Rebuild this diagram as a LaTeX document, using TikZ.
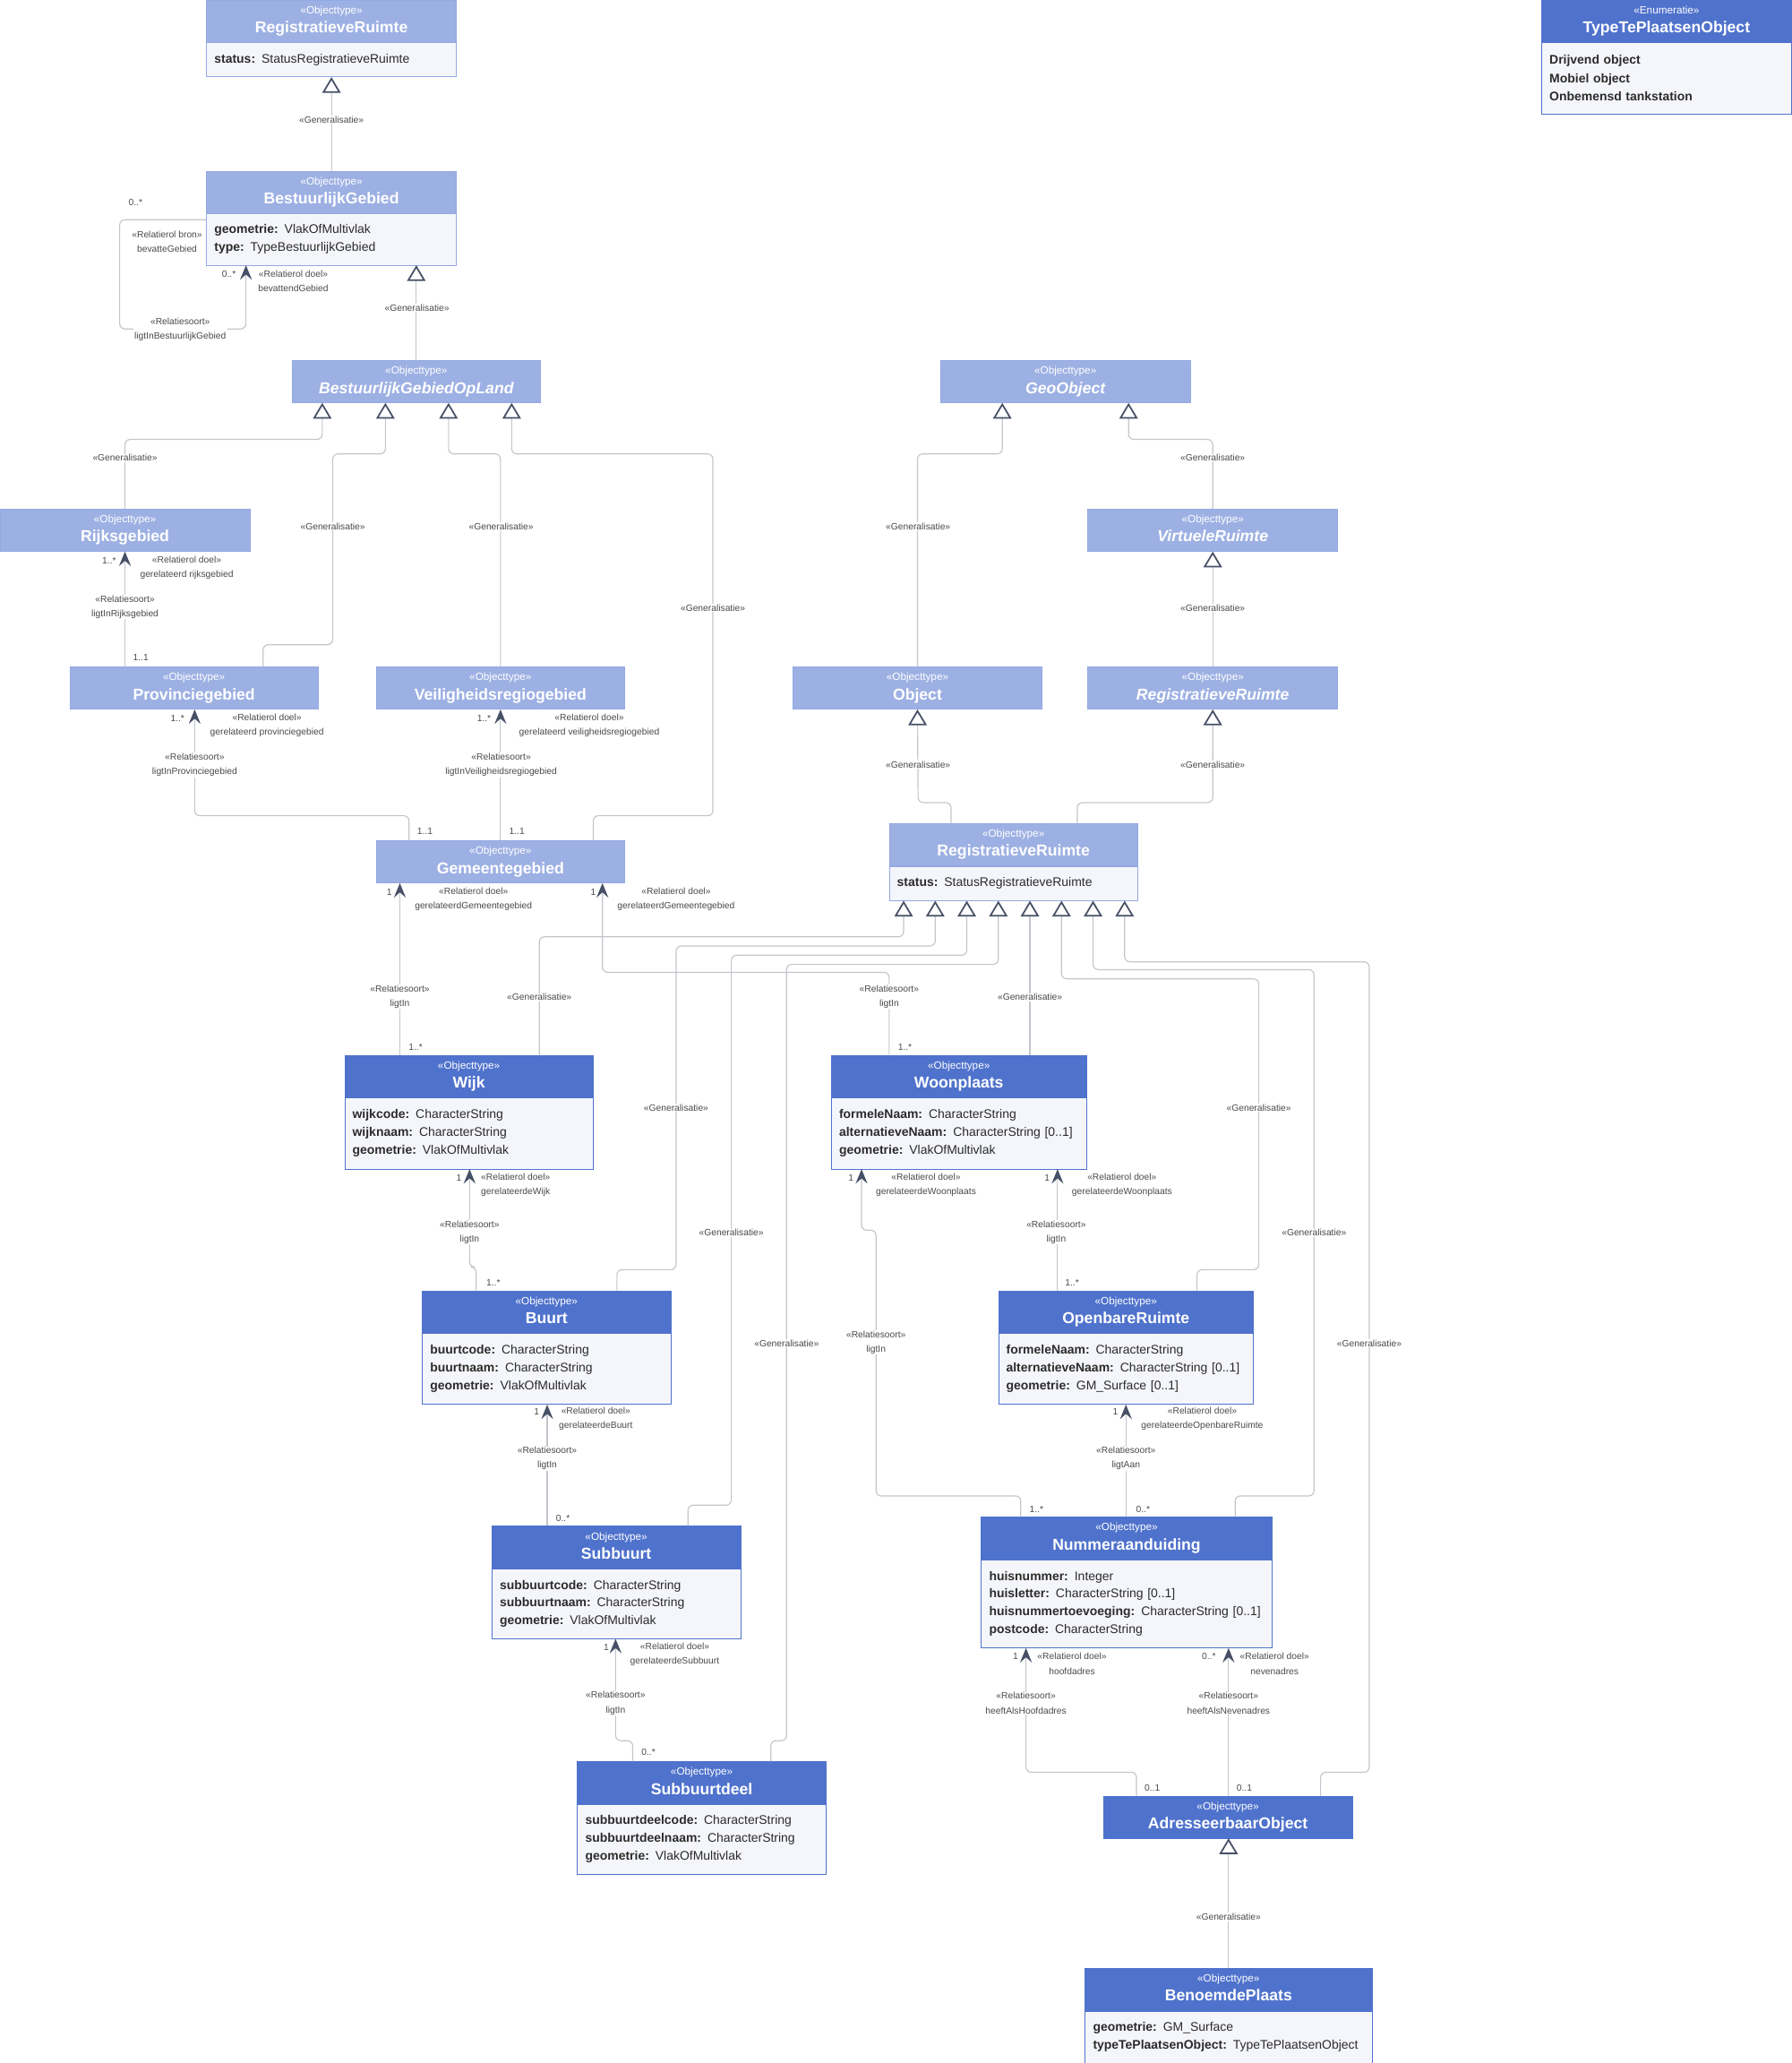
\documentclass[tikz,border=0pt]{standalone}
\usepackage{fontspec}
\setmainfont{Liberation Sans}
\usepackage{xcolor}
\usepackage{tikz}
\usetikzlibrary{arrows.meta, positioning, calc}

\definecolor{hdrLight}{HTML}{9DB0E3}
\definecolor{hdrDark}{HTML}{4F72CC}
\definecolor{edgeLight}{HTML}{93A9E4}
\definecolor{bodyFill}{HTML}{F5F6FB}
\definecolor{wireC}{HTML}{C3C6CC}
\definecolor{tipC}{HTML}{475066}
\definecolor{lblC}{HTML}{4A4A4A}
\definecolor{attrC}{HTML}{2B2B2B}

\newcommand{\stype}[1]{«#1»}
\newcommand{\ctitle}[1]{{\fontsize{12}{14}\selectfont\bfseries #1\vphantom{Wjg}}}

\begin{document}
\begin{tikzpicture}[
    x=1pt, y=-1pt,
    hlight/.style={draw=edgeLight, fill=hdrLight, text=white, minimum height=32pt, align=center, inner sep=0pt, font=\fontsize{8}{14.5}\selectfont},
    hdark/.style={hlight, draw=hdrDark, fill=hdrDark},
    attrs/.style={draw=edgeLight, fill=bodyFill, text=attrC, anchor=north, align=left, inner xsep=6pt, inner ysep=0pt, font=\fontsize{9.5}{13.5}\selectfont},
    dattrs/.style={attrs, draw=hdrDark},
    wire/.style={draw=wireC, line width=0.8pt, rounded corners=4pt},
    gen/.style={wire, -{Triangle[length=12pt, width=14pt, line width=1.2pt, color=tipC, fill=white]}},
    assoc/.style={wire, -{Stealth[length=11pt, width=9pt, inset=4pt, color=tipC]}},
    lbl/.style={font=\fontsize{7}{11}\selectfont, text=lblC, fill=white, align=center, inner xsep=1pt, inner ysep=0.5pt},
    role/.style={lbl, fill=none}
]
    \useasboundingbox (0,0) rectangle (1362,1568);

    % Bestuurlijke gebieden
    \node[hlight, minimum width=190pt] (rrT) at (252,16) {\stype{Objecttype}\\\ctitle{RegistratieveRuimte}};
    \node[attrs, minimum width=190pt, text width=178pt, minimum height=26pt] (rrTA) at (rrT.south) {\textbf{status:} StatusRegistratieveRuimte};
    \node[hlight, minimum width=190pt] (bg) at (252,146) {\stype{Objecttype}\\\ctitle{BestuurlijkGebied}};
    \node[attrs, minimum width=190pt, text width=178pt, minimum height=39pt] (bgA) at (bg.south) {\textbf{geometrie:} VlakOfMultivlak\\\textbf{type:} TypeBestuurlijkGebied};
    \node[hlight, minimum width=189pt] (bgol) at (316.5,290) {\stype{Objecttype}\\\ctitle{\itshape BestuurlijkGebiedOpLand}};
    \node[hlight, minimum width=190pt] (rijk) at (95,403) {\stype{Objecttype}\\\ctitle{Rijksgebied}};
    \node[hlight, minimum width=189pt] (prov) at (147.5,523) {\stype{Objecttype}\\\ctitle{Provinciegebied}};
    \node[hlight, minimum width=189pt] (veil) at (380.5,523) {\stype{Objecttype}\\\ctitle{Veiligheidsregiogebied}};
    \node[hlight, minimum width=189pt] (gem) at (380.5,655) {\stype{Objecttype}\\\ctitle{Gemeentegebied}};

    % GeoObject tak
    \node[hlight, minimum width=190pt] (geo) at (810,290) {\stype{Objecttype}\\\ctitle{\itshape GeoObject}};
    \node[hlight, minimum width=190pt] (virt) at (922,403) {\stype{Objecttype}\\\ctitle{\itshape VirtueleRuimte}};
    \node[hlight, minimum width=189pt] (obj) at (697.5,523) {\stype{Objecttype}\\\ctitle{Object}};
    \node[hlight, minimum width=190pt] (rrR) at (922,523) {\stype{Objecttype}\\\ctitle{\itshape RegistratieveRuimte}};
    \node[hlight, minimum width=189pt] (rrm) at (770.5,642) {\stype{Objecttype}\\\ctitle{RegistratieveRuimte}};
    \node[attrs, minimum width=189pt, text width=177pt, minimum height=26pt] (rrmA) at (rrm.south) {\textbf{status:} StatusRegistratieveRuimte};

    % Registratieve ruimtes
    \node[hdark, minimum width=189pt] (wijk) at (356.5,818) {\stype{Objecttype}\\\ctitle{Wijk}};
    \node[dattrs, minimum width=189pt, text width=177pt, minimum height=54pt] (wijkA) at (wijk.south) {\textbf{wijkcode:} CharacterString\\\textbf{wijknaam:} CharacterString\\\textbf{geometrie:} VlakOfMultivlak};
    \node[hdark, minimum width=194pt] (woon) at (729,818) {\stype{Objecttype}\\\ctitle{Woonplaats}};
    \node[dattrs, minimum width=194pt, text width=182pt, minimum height=54pt] (woonA) at (woon.south) {\textbf{formeleNaam:} CharacterString\\\textbf{alternatieveNaam:} CharacterString [0..1]\\\textbf{geometrie:} VlakOfMultivlak};
    \node[hdark, minimum width=189pt] (buurt) at (415.5,997) {\stype{Objecttype}\\\ctitle{Buurt}};
    \node[dattrs, minimum width=189pt, text width=177pt, minimum height=54pt] (buurtA) at (buurt.south) {\textbf{buurtcode:} CharacterString\\\textbf{buurtnaam:} CharacterString\\\textbf{geometrie:} VlakOfMultivlak};
    \node[hdark, minimum width=194pt] (opr) at (856,997) {\stype{Objecttype}\\\ctitle{OpenbareRuimte}};
    \node[dattrs, minimum width=194pt, text width=182pt, minimum height=54pt] (oprA) at (opr.south) {\textbf{formeleNaam:} CharacterString\\\textbf{alternatieveNaam:} CharacterString [0..1]\\\textbf{geometrie:} GM\_Surface [0..1]};
    \node[hdark, minimum width=189pt] (subb) at (468.5,1176) {\stype{Objecttype}\\\ctitle{Subbuurt}};
    \node[dattrs, minimum width=189pt, text width=177pt, minimum height=53pt] (subbA) at (subb.south) {\textbf{subbuurtcode:} CharacterString\\\textbf{subbuurtnaam:} CharacterString\\\textbf{geometrie:} VlakOfMultivlak};
    \node[hdark, minimum width=221pt] (numm) at (856.5,1169) {\stype{Objecttype}\\\ctitle{Nummeraanduiding}};
    \node[dattrs, minimum width=221pt, text width=209pt, minimum height=67pt] (nummA) at (numm.south) {\textbf{huisnummer:} Integer\\\textbf{huisletter:} CharacterString [0..1]\\\textbf{huisnummertoevoeging:} CharacterString [0..1]\\\textbf{postcode:} CharacterString};
    \node[hdark, minimum width=189pt] (subd) at (533.5,1355) {\stype{Objecttype}\\\ctitle{Subbuurtdeel}};
    \node[dattrs, minimum width=189pt, text width=177pt, minimum height=53pt] (subdA) at (subd.south) {\textbf{subbuurtdeelcode:} CharacterString\\\textbf{subbuurtdeelnaam:} CharacterString\\\textbf{geometrie:} VlakOfMultivlak};
    \node[hdark, minimum width=189pt] (ao) at (933.5,1381) {\stype{Objecttype}\\\ctitle{AdresseerbaarObject}};
    \node[hdark, minimum width=218pt] (bp) at (934,1512) {\stype{Objecttype}\\\ctitle{BenoemdePlaats}};
    \node[dattrs, minimum width=218pt, text width=206pt, minimum height=40pt] (bpA) at (bp.south) {\textbf{geometrie:} GM\_Surface\\\textbf{typeTePlaatsenObject:} TypeTePlaatsenObject};

    % Enumeratie
    \node[hdark, minimum width=190pt] (enum) at (1267,16) {\stype{Enumeratie}\\\ctitle{TypeTePlaatsenObject}};
    \node[dattrs, minimum width=190pt, text width=178pt, minimum height=54pt, font=\fontsize{9.5}{14}\selectfont\bfseries] (enumA) at (enum.south) {Drijvend object\\Mobiel object\\Onbemensd tankstation};

    % Generalisaties
    \draw[gen] (bg.north) -- (rrTA.south);
    \draw[gen] (bgol.north) -- (bgA.south -| bgol.north);
    \draw[gen] (rijk.north) |- (245,334) -- (bgol.south -| 245,0);
    \draw[gen] (prov.north -| 200,0) |- (253,490) |- (293,345) -- (bgol.south -| 293,0);
    \draw[gen] (veil.north) |- (341,345) -- (bgol.south -| 341,0);
    \draw[gen] (gem.north -| 451,0) |- (542,620) |- (389,345) -- (bgol.south -| 389,0);
    \draw[gen] (obj.north) |- (762,345) -- (geo.south -| 762,0);
    \draw[gen] (virt.north) |- (858,334) -- (geo.south -| 858,0);
    \draw[gen] (rrR.north) -- (virt.south);
    \draw[gen] (rrm.north -| 723,0) |- (698,610) -- (obj.south);
    \draw[gen] (rrm.north -| 819,0) |- (922,610) -- (rrR.south);
    \draw[gen] (wijk.north -| 410,0) |- (687,712) -- (rrmA.south -| 687,0);
    \draw[gen] (buurt.north -| 469,0) |- (514,965) |- (711,719) -- (rrmA.south -| 711,0);
    \draw[gen] (subb.north -| 523,0) |- (556,1144) |- (735,726) -- (rrmA.south -| 735,0);
    \draw[gen] (subd.north -| 586,0) |- (598,1323) |- (759,733) -- (rrmA.south -| 759,0);
    \draw[gen] (woon.north -| 783,0) -- (rrmA.south -| 783,0);
    \draw[gen] (opr.north -| 910,0) |- (957,965) |- (807,744) -- (rrmA.south -| 807,0);
    \draw[gen] (numm.north -| 939,0) |- (999,1137) |- (831,737) -- (rrmA.south -| 831,0);
    \draw[gen] (ao.north -| 1004,0) |- (1041,1347) |- (855,731) -- (rrmA.south -| 855,0);
    \draw[gen] (bp.north) -- (ao.south -| bp.north);

    % Relatiesoorten
    \draw[assoc] (bgA.west |- 0,167) -| (91,250) -| (bgA.south -| 187,0);
    \draw[assoc] (prov.north -| rijk.south) -- (rijk.south);
    \draw[assoc] (gem.north -| 311,0) |- (148,620) -- (prov.south -| 148,0);
    \draw[assoc] (gem.north) -- (veil.south);
    \draw[assoc] (wijk.north -| 304,0) -- (gem.south -| 304,0);
    \draw[assoc] (woon.north -| 676,0) |- (458,739) -- (gem.south -| 458,0);
    \draw[assoc] (buurt.north -| 362,0) |- (357,963) -- (wijkA.south -| 357,0);
    \draw[assoc] (subb.north -| 416,0) -- (buurtA.south -| 416,0);
    \draw[assoc] (subd.north -| 481,0) |- (468,1323) -- (subbA.south -| 468,0);
    \draw[assoc] (opr.north -| 804,0) -- (woonA.south -| 804,0);
    \draw[assoc] (numm.north -| 776,0) |- (666,1137) |- (655,935) -- (woonA.south -| 655,0);
    \draw[assoc] (numm.north -| 856,0) -- (oprA.south -| 856,0);
    \draw[assoc] (ao.north -| 864,0) |- (780,1347) -- (nummA.south -| 780,0);
    \draw[assoc] (ao.north -| 934,0) -- (nummA.south -| 934,0);

    % Labels generalisaties
    \node[lbl] (lg1) at (252,91) {«Generalisatie»};
    \node[lbl] (lg2) at (317,234) {«Generalisatie»};
    \node[lbl] (lg3) at (95,348) {«Generalisatie»};
    \node[lbl] (lg4) at (253,400) {«Generalisatie»};
    \node[lbl] (lg5) at (381,400) {«Generalisatie»};
    \node[lbl] (lg6) at (542,462) {«Generalisatie»};
    \node[lbl] (lg7) at (698,400) {«Generalisatie»};
    \node[lbl] (lg8) at (922,348) {«Generalisatie»};
    \node[lbl] (lg9) at (922,462) {«Generalisatie»};
    \node[lbl] (lg10) at (698,581) {«Generalisatie»};
    \node[lbl] (lg11) at (922,581) {«Generalisatie»};
    \node[lbl] (lg12) at (410,758) {«Generalisatie»};
    \node[lbl] (lg13) at (783,758) {«Generalisatie»};
    \node[lbl] (lg14) at (514,842) {«Generalisatie»};
    \node[lbl] (lg15) at (957,842) {«Generalisatie»};
    \node[lbl] (lg16) at (556,937) {«Generalisatie»};
    \node[lbl] (lg17) at (999,937) {«Generalisatie»};
    \node[lbl] (lg18) at (598,1021) {«Generalisatie»};
    \node[lbl] (lg19) at (1041,1021) {«Generalisatie»};
    \node[lbl] (lg20) at (934,1457) {«Generalisatie»};

    % Labels relatiesoorten
    \node[lbl] (ls1) at (137,250.5) {«Relatiesoort»\\ligtInBestuurlijkGebied};
    \node[lbl] (ls2) at (95,461.5) {«Relatiesoort»\\ligtInRijksgebied};
    \node[lbl] (ls3) at (148,581.5) {«Relatiesoort»\\ligtInProvinciegebied};
    \node[lbl] (ls4) at (381,581.5) {«Relatiesoort»\\ligtInVeiligheidsregiogebied};
    \node[lbl] (ls5) at (304,757.5) {«Relatiesoort»\\ligtIn};
    \node[lbl] (ls6) at (676,757.5) {«Relatiesoort»\\ligtIn};
    \node[lbl] (ls7) at (357,936.5) {«Relatiesoort»\\ligtIn};
    \node[lbl] (ls8) at (803,936.5) {«Relatiesoort»\\ligtIn};
    \node[lbl] (ls9) at (666,1020.5) {«Relatiesoort»\\ligtIn};
    \node[lbl] (ls10) at (416,1108.5) {«Relatiesoort»\\ligtIn};
    \node[lbl] (ls11) at (856,1108.5) {«Relatiesoort»\\ligtAan};
    \node[lbl] (ls12) at (468,1294.5) {«Relatiesoort»\\ligtIn};
    \node[lbl] (ls13) at (780,1294.5) {«Relatiesoort»\\heeftAlsHoofdadres};
    \node[lbl] (ls14) at (934,1294.5) {«Relatiesoort»\\heeftAlsNevenadres};

    % Labels relatierollen
    \node[role] (lr1) at (127,183.5) {«Relatierol bron»\\bevatteGebied};
    \node[role] (lr2) at (223,213.5) {«Relatierol doel»\\bevattendGebied};
    \node[role] (lr3) at (142,431.5) {«Relatierol doel»\\gerelateerd rijksgebied};
    \node[role] (lr4) at (203,551.5) {«Relatierol doel»\\gerelateerd provinciegebied};
    \node[role] (lr5) at (448,551.5) {«Relatierol doel»\\gerelateerd veiligheidsregiogebied};
    \node[role] (lr6) at (360,683.5) {«Relatierol doel»\\gerelateerdGemeentegebied};
    \node[role] (lr7) at (514,683.5) {«Relatierol doel»\\gerelateerdGemeentegebied};
    \node[role] (lr8) at (392,900.5) {«Relatierol doel»\\gerelateerdeWijk};
    \node[role] (lr9) at (704,900.5) {«Relatierol doel»\\gerelateerdeWoonplaats};
    \node[role] (lr10) at (853,900.5) {«Relatierol doel»\\gerelateerdeWoonplaats};
    \node[role] (lr11) at (453,1078.5) {«Relatierol doel»\\gerelateerdeBuurt};
    \node[role] (lr12) at (914,1078.5) {«Relatierol doel»\\gerelateerdeOpenbareRuimte};
    \node[role] (lr13) at (513,1257.5) {«Relatierol doel»\\gerelateerdeSubbuurt};
    \node[role] (lr14) at (815,1264.5) {«Relatierol doel»\\hoofdadres};
    \node[role] (lr15) at (969,1264.5) {«Relatierol doel»\\nevenadres};

    % Multipliciteiten
    \node[role] (m1) at (103,154) {0..*};
    \node[role] (m2) at (174,208) {0..*};
    \node[role] (m3) at (83,426) {1..*};
    \node[role] (m4) at (107,500) {1..1};
    \node[role] (m5) at (135,546) {1..*};
    \node[role] (m6) at (368,546) {1..*};
    \node[role] (m7) at (323,632) {1..1};
    \node[role] (m8) at (393,632) {1..1};
    \node[role] (m9) at (296,678) {1};
    \node[role] (m10) at (451,678) {1};
    \node[role] (m11) at (316,796) {1..*};
    \node[role] (m12) at (688,796) {1..*};
    \node[role] (m13) at (349,895) {1};
    \node[role] (m14) at (647,895) {1};
    \node[role] (m15) at (796,895) {1};
    \node[role] (m16) at (375,975) {1..*};
    \node[role] (m17) at (815,975) {1..*};
    \node[role] (m18) at (408,1073) {1};
    \node[role] (m19) at (848,1073) {1};
    \node[role] (m20) at (428,1154) {0..*};
    \node[role] (m21) at (788,1147) {1..*};
    \node[role] (m22) at (869,1147) {0..*};
    \node[role] (m23) at (461,1252) {1};
    \node[role] (m24) at (493,1332) {0..*};
    \node[role] (m25) at (772,1259) {1};
    \node[role] (m26) at (919,1259) {0..*};
    \node[role] (m27) at (876,1359) {0..1};
    \node[role] (m28) at (946,1359) {0..1};

\end{tikzpicture}
\end{document}
